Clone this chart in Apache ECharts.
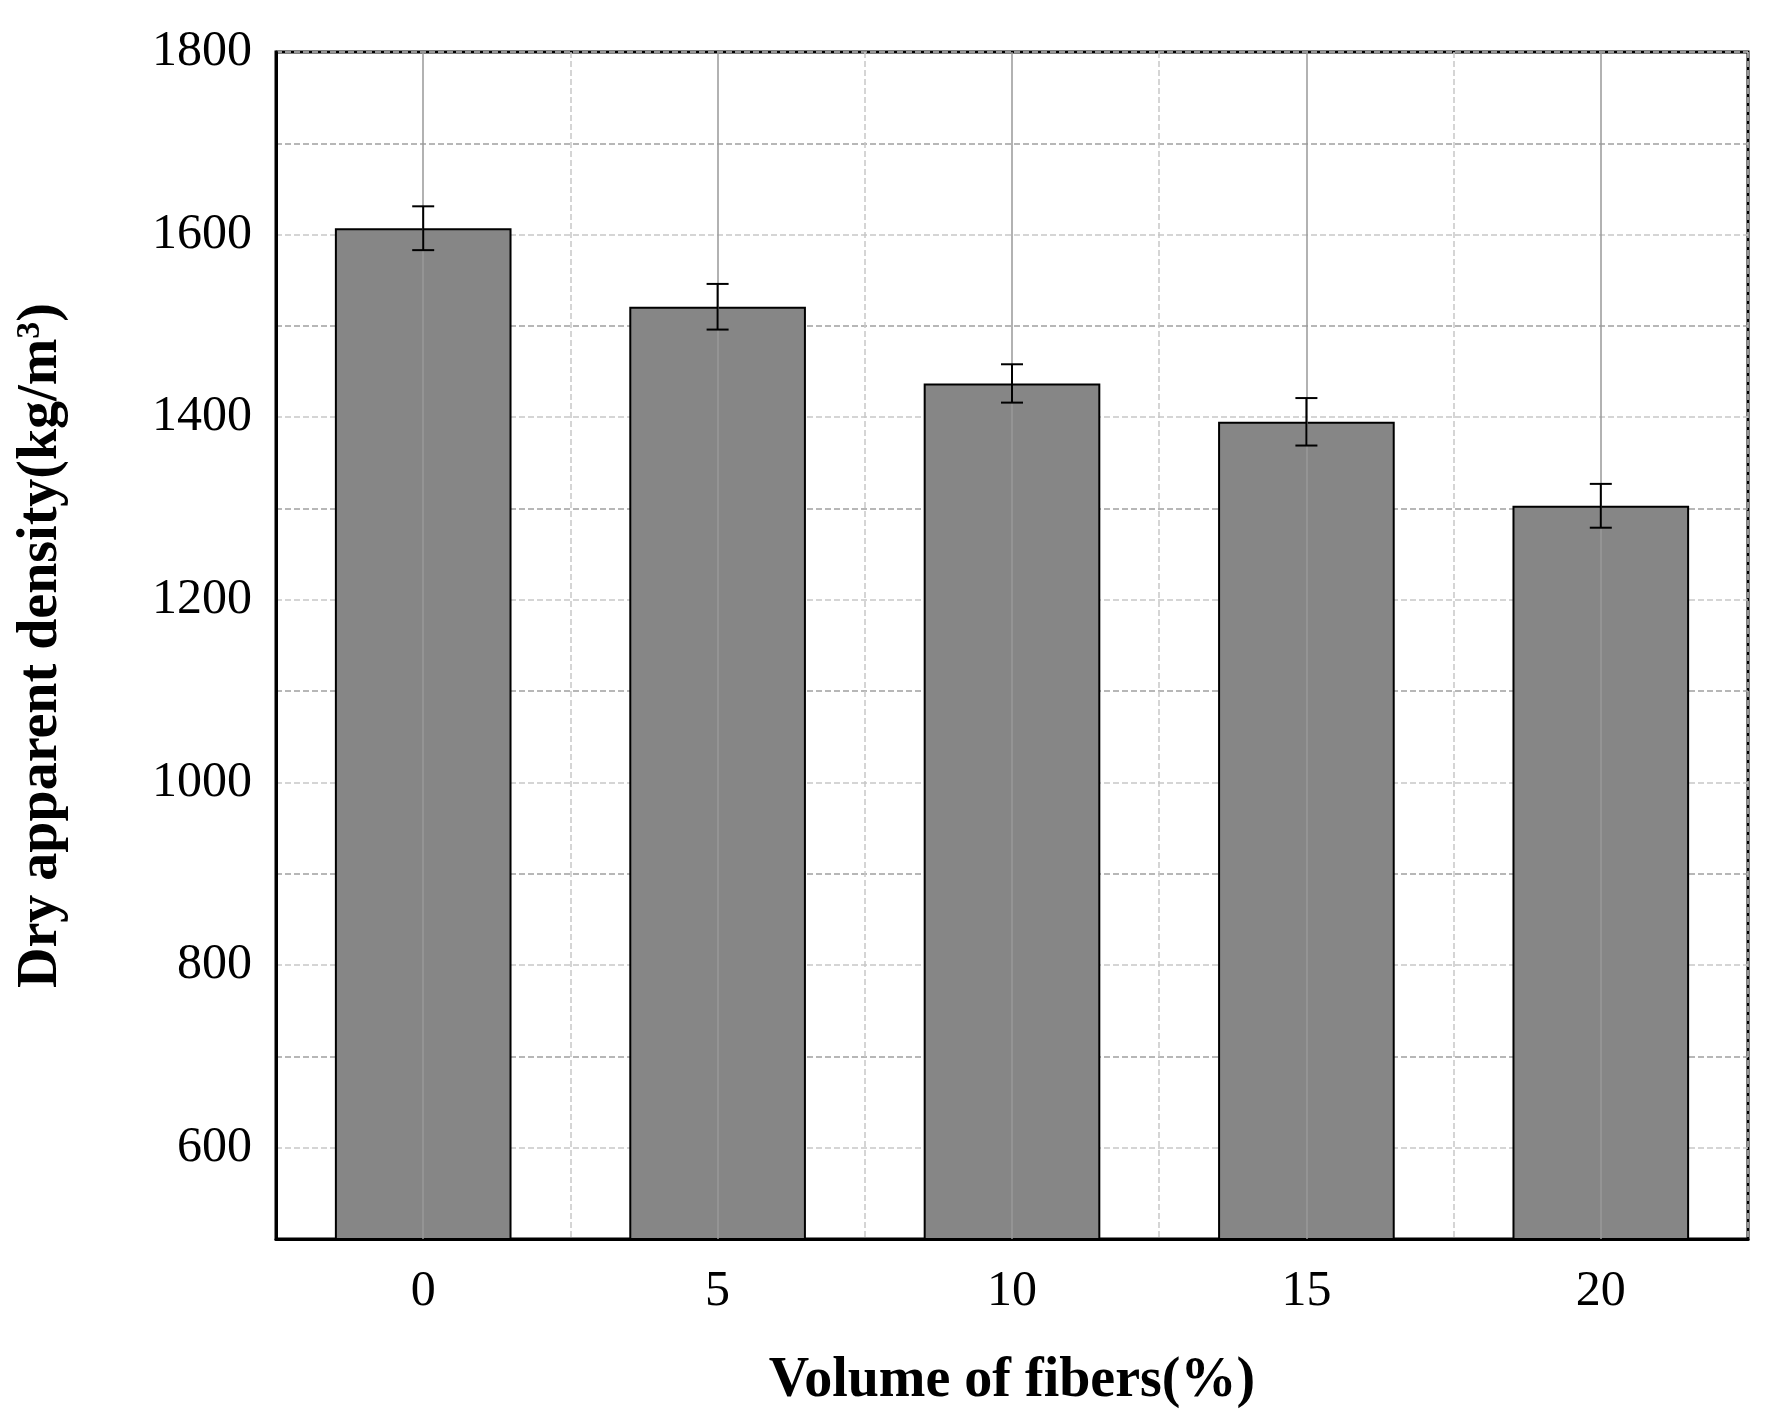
<!DOCTYPE html>
<html>
<head>
<meta charset="utf-8">
<script src="https://cdn.jsdelivr.net/npm/echarts@6/dist/echarts.min.js"></script>
<style>html,body{margin:0;background:#fff}#main{width:1770px;height:1419px}</style>
</head>
<body>
<div id="main"></div>
<script>
// fibre volume (%) and measured dry density
const categories = ["0", "5", "10", "15", "20"];
const densities = [1607, 1521, 1437, 1395, 1303];
const errors = [24, 25, 21, 26, 24];
const yTicks = [600, 800, 1000, 1200, 1400, 1600, 1800];

const font = "'Liberation Serif', 'Times New Roman', serif";
const chart = echarts.init(document.getElementById("main"));

chart.setOption({
  animation: false,
  grid: {
    left: 276, right: 22, top: 52, bottom: 180,
    show: true, borderColor: "#000", borderWidth: 3, backgroundColor: "transparent"
  },
  xAxis: {
    type: "category",
    data: categories,
    name: "Volume of fibers(%)",
    nameLocation: "middle",
    nameGap: 115,
    nameTextStyle: { fontFamily: font, fontWeight: "bold", fontSize: 56, color: "#000" },
    axisLine: { lineStyle: { color: "#000", width: 3 } },
    axisTick: { show: false },
    axisLabel: { fontFamily: font, fontSize: 50, color: "#000", margin: 28 },
    splitLine: { show: true, lineStyle: { color: "#c8c8c8", type: "dashed", width: 1.5 } }
  },
  yAxis: {
    type: "value",
    min: 500, max: 1800, interval: 100,
    name: "Dry apparent density(kg/m{sup|3})",
    nameLocation: "middle",
    nameGap: 205,
    nameTextStyle: {
      fontFamily: font, fontWeight: "bold", fontSize: 56, color: "#000",
      rich: { sup: { fontFamily: font, fontWeight: "bold", fontSize: 34, verticalAlign: "top", padding: [0, 0, 24, 0] } }
    },
    axisLine: { show: true, lineStyle: { color: "#000", width: 3 } },
    axisTick: { show: false },
    axisLabel: {
      fontFamily: font, fontSize: 50, color: "#000", margin: 24,
      formatter: v => yTicks.includes(v) ? String(v) : ""
    },
    splitLine: {
      show: true,
      lineStyle: {
        color: ["#c8c8c8", "#c8c8c8", "#a0a0a0", "#c8c8c8", "#a0a0a0", "#c8c8c8", "#a0a0a0", "#c8c8c8", "#a0a0a0", "#c8c8c8", "#a0a0a0", "#c8c8c8", "#a0a0a0", "#c8c8c8"],
        type: "dashed", width: 1.5
      }
    }
  },
  series: [
    {
      type: "bar",
      data: densities,
      barWidth: "60%",
      itemStyle: { color: "#868686", borderColor: "#000", borderWidth: 2 },
      markLine: {
        silent: true, symbol: "none", label: { show: false },
        lineStyle: { color: "#999", type: "solid", width: 1.5 },
        data: categories.map(c => ({ xAxis: c }))
      },
      z: 2
    },
    {
      type: "custom",
      z: 5,
      data: densities.map((d, i) => [i, d - errors[i], d + errors[i]]),
      renderItem: (params, api) => {
        const lo = api.coord([api.value(0), api.value(1)]);
        const hi = api.coord([api.value(0), api.value(2)]);
        const w = 11;
        const st = { stroke: "#000", lineWidth: 2 };
        return {
          type: "group",
          children: [
            { type: "line", shape: { x1: lo[0], y1: lo[1], x2: hi[0], y2: hi[1] }, style: st },
            { type: "line", shape: { x1: lo[0] - w, y1: lo[1], x2: lo[0] + w, y2: lo[1] }, style: st },
            { type: "line", shape: { x1: hi[0] - w, y1: hi[1], x2: hi[0] + w, y2: hi[1] }, style: st }
          ]
        };
      }
    }
  ]
});
</script>
</body>
</html>
